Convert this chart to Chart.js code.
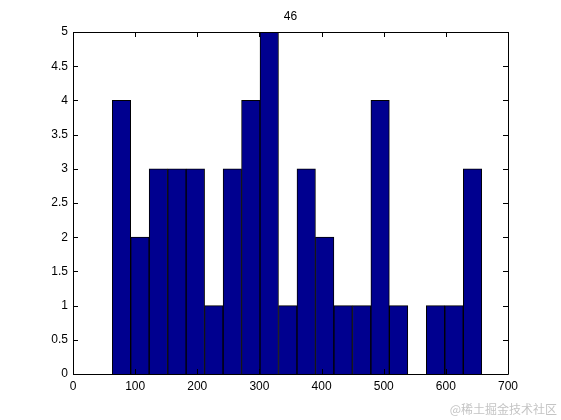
<!DOCTYPE html>
<html>
<head>
<meta charset="utf-8">
<script src="https://cdn.jsdelivr.net/npm/chart.js@4"></script>
<style>
  html, body { margin: 0; padding: 0; background: #fff; }
  #wrap { width: 561px; height: 420px; position: relative; }
</style>
</head>
<body>
<div id="wrap"><canvas id="hist"></canvas></div>
<script>
// ============================================
// Data
// ============================================

const chartTitle = '46';
// bin centres (x units) and counts
const binCenters = [78.0, 107.7, 137.4, 167.2, 196.9, 226.6, 256.4, 286.1, 315.8, 345.6,
                    375.3, 405.0, 434.7, 464.5, 494.2, 523.9, 553.7, 583.4, 613.1, 642.9];
const binCounts = [4, 2, 3, 3, 3, 1, 3, 4, 5, 1,
                   3, 2, 1, 1, 4, 1, 0, 1, 1, 3];
const xTicks = [0, 100, 200, 300, 400, 500, 600, 700];
const yTicks = [0, 0.5, 1, 1.5, 2, 2.5, 3, 3.5, 4, 4.5, 5];
const watermark = '@稀土掘金技术社区';

const FONT = '"Liberation Sans", Arial, Helvetica, sans-serif';

// Box round the plot with inward ticks on all four sides (matlab look)
const boxTicks = {
  id: 'boxTicks',
  afterDraw(chart) {
    const { ctx, chartArea: a, scales } = chart;
    const len = 5;
    ctx.save();
    ctx.strokeStyle = '#000';
    ctx.lineWidth = 1;
    ctx.beginPath();
    ctx.rect(a.left + 0.5, a.top + 0.5, a.right - a.left, a.bottom - a.top);
    xTicks.forEach(v => {
      const px = Math.round(scales.x.getPixelForValue(v)) + 0.5;
      ctx.moveTo(px, a.bottom); ctx.lineTo(px, a.bottom - len);
      ctx.moveTo(px, a.top); ctx.lineTo(px, a.top + len);
    });
    yTicks.forEach(v => {
      const py = Math.round(scales.y.getPixelForValue(v)) + 0.5;
      ctx.moveTo(a.left, py); ctx.lineTo(a.left + len, py);
      ctx.moveTo(a.right, py); ctx.lineTo(a.right - len, py);
    });
    ctx.stroke();

    // watermark bottom right
    ctx.fillStyle = '#c4c4c4';
    ctx.font = '12px "Noto Sans CJK SC", sans-serif';
    ctx.textAlign = 'right';
    ctx.textBaseline = 'middle';
    ctx.fillText(watermark, 557, 409);
    ctx.restore();
  }
};

new Chart(document.getElementById('hist'), {
  type: 'bar',
  data: {
    datasets: [{
      data: binCenters.map((x, i) => ({ x: x, y: binCounts[i] })),
      backgroundColor: '#00008f',
      borderColor: '#000000',
      borderWidth: 1,
      barPercentage: 1,
      categoryPercentage: 1
    }]
  },
  options: {
    responsive: true,
    maintainAspectRatio: false,
    animation: false,
    layout: { padding: { left: 0, right: 53, top: 0, bottom: 0 } },
    plugins: {
      legend: { display: false },
      tooltip: { enabled: false },
      title: {
        display: true,
        fullSize: false,
        text: chartTitle,
        color: '#000',
        font: { family: FONT, size: 12, weight: 'normal' },
        padding: { top: 9.3, bottom: 8.3 }
      }
    },
    scales: {
      x: {
        type: 'linear',
        min: 0,
        max: 700,
        offset: false,
        grid: { display: false, drawTicks: false },
        border: { display: false },
        afterBuildTicks: s => { s.ticks = xTicks.map(v => ({ value: v })); },
        afterFit: s => { s.height = 46; },
        ticks: {
          color: '#000',
          padding: 5,
          maxRotation: 0,
          font: { family: FONT, size: 12 },
          callback: v => String(v)
        }
      },
      y: {
        min: 0,
        max: 5,
        grid: { display: false, drawTicks: false },
        border: { display: false },
        afterBuildTicks: s => { s.ticks = yTicks.map(v => ({ value: v })); },
        afterFit: s => { s.width = 73; },
        ticks: {
          color: '#000',
          padding: 5,
          font: { family: FONT, size: 12 },
          callback: v => String(v)
        }
      }
    }
  },
  plugins: [boxTicks]
});
</script>
</body>
</html>
